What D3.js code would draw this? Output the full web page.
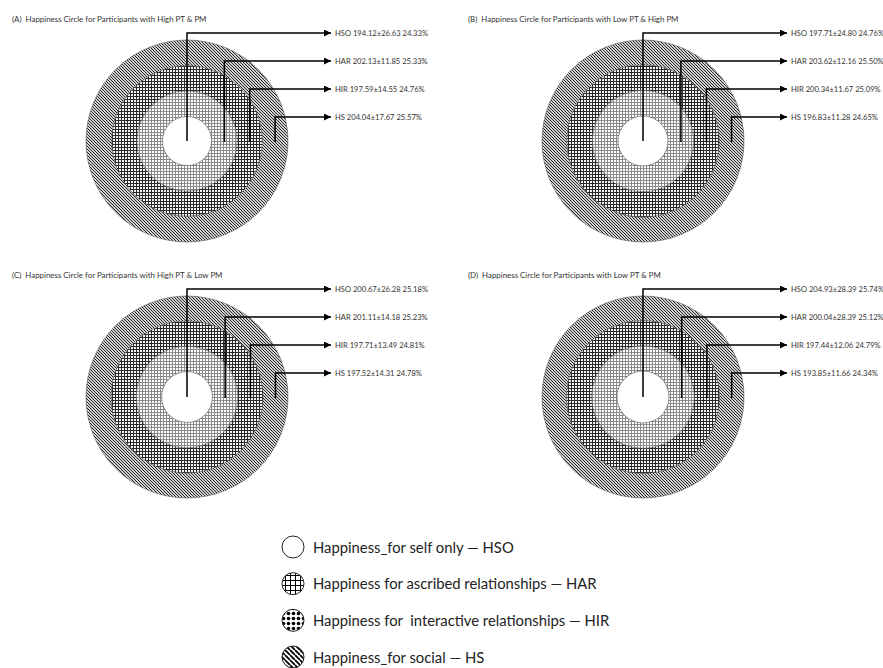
<!DOCTYPE html>
<html>
<head>
<meta charset="utf-8">
<script src="https://cdn.jsdelivr.net/npm/d3@7/dist/d3.min.js"></script>
<style>
  html, body { margin: 0; padding: 0; background: #fff; }
  svg { display: block; font-family: Lato, "Open Sans", sans-serif; }
</style>
</head>
<body>
<svg id="chart" width="883" height="668"></svg>
<script>
// Happiness circle groups and their labels
const panelTitles = [
  "(A)  Happiness Circle for Participants with High PT & PM",
  "(B)  Happiness Circle for Participants with Low PT & High PM",
  "(C)  Happiness Circle for Participants with High PT & Low PM",
  "(D)  Happiness Circle for Participants with Low PT & PM"
];
const categories = ["HSO", "HAR", "HIR", "HS"];

// Mean, SD and share (%) per category, one row per group (A–D)
const means = [
  [194.12, 202.13, 197.59, 204.04],
  [197.71, 203.62, 200.34, 196.83],
  [200.67, 201.11, 197.71, 197.52],
  [204.93, 200.04, 197.44, 193.85]
];
const sds = [
  [26.63, 11.85, 14.55, 17.67],
  [24.80, 12.16, 11.67, 11.28],
  [26.28, 14.18, 13.49, 14.31],
  [28.39, 28.39, 12.06, 11.66]
];
const percents = [
  [24.33, 25.33, 24.76, 25.57],
  [24.76, 25.50, 25.09, 24.65],
  [25.18, 25.23, 24.81, 24.78],
  [25.74, 25.12, 24.79, 24.34]
];

const legendLabels = [
  "Happiness_for self only \u2014 HSO",
  "Happiness for ascribed relationships \u2014 HAR",
  "Happiness for  interactive relationships \u2014 HIR",
  "Happiness_for social \u2014 HS"
];

const svg = d3.select("#chart");
const defs = svg.append("defs");

// ---- fill textures ----
function gridPattern(id, size, color, w, bg) {
  const p = defs.append("pattern").attr("id", id)
    .attr("patternUnits", "userSpaceOnUse").attr("width", size).attr("height", size);
  p.append("rect").attr("width", size).attr("height", size).attr("fill", bg || "#fff");
  p.append("rect").attr("width", size).attr("height", w).attr("fill", color);
  p.append("rect").attr("width", w).attr("height", size).attr("fill", color);
}
function diagPattern(id, size, color, w, bg) {
  const p = defs.append("pattern").attr("id", id)
    .attr("patternUnits", "userSpaceOnUse").attr("width", size).attr("height", size);
  p.append("rect").attr("width", size).attr("height", size).attr("fill", bg || "#fff");
  p.append("path")
    .attr("d", `M0,0L${size},${size}M${-size},0L0,${size}M${size},0L${2 * size},${size}`)
    .attr("stroke", color).attr("stroke-width", w);
}
function dotPattern(id, size, r) {
  const p = defs.append("pattern").attr("id", id)
    .attr("patternUnits", "userSpaceOnUse").attr("width", size).attr("height", size)
    .attr("x", 1).attr("y", 1);
  p.append("rect").attr("width", size).attr("height", size).attr("fill", "#fff");
  p.append("circle").attr("cx", size / 2).attr("cy", size / 2).attr("r", r).attr("fill", "#000");
}

gridPattern("texHAR", 3, "#8a8a8a", 1);
gridPattern("texHIR", 3, "#2a2a2a", 1, "#f4f4f4");
diagPattern("texHS", 3, "#2a2a2a", 1, "#cfcfcf");
gridPattern("legHAR", 5, "#000", 1);
dotPattern("legHIR", 5, 1.8);
diagPattern("legHS", 5, "#000", 1.8);

const fills = { HSO: "#fff", HAR: "url(#texHAR)", HIR: "url(#texHIR)", HS: "url(#texHS)" };
const legendFills = ["#fff", "url(#legHAR)", "url(#legHIR)", "url(#legHS)"];

// arrowhead
defs.append("marker").attr("id", "arrow")
  .attr("viewBox", "0 0 10 10").attr("refX", 10).attr("refY", 5)
  .attr("markerUnits", "userSpaceOnUse")
  .attr("markerWidth", 7).attr("markerHeight", 7).attr("orient", "auto")
  .append("path").attr("d", "M0,0L10,5L0,10Z").attr("fill", "#000");

// ---- layout of the four panels ----
const col = d3.scalePoint().domain([0, 1]).range([187, 643]);
const row = d3.scalePoint().domain([0, 1]).range([141, 397]);
const rScale = d3.scaleLinear().domain([0, 100]).range([0, 101]);
const labelY = d3.scalePoint().domain(categories).range([-108, -24]);
const arrowX = 144;

panelTitles.forEach((title, i) => {
  const cx = col(i % 2), cy = row(Math.floor(i / 2));
  const g = svg.append("g").attr("transform", `translate(${cx},${cy})`);

  // outer radius of each ring from cumulative share
  const cum = d3.cumsum(percents[i]);
  const outer = Array.from(cum, v => rScale(v));
  const inner = [0].concat(outer.slice(0, 3));
  const rings = categories.map((c, k) => ({ c, r0: inner[k], r1: outer[k] }));

  svg.append("text")
    .attr("x", cx - 175).attr("y", cy - 119)
    .attr("font-size", 7.9).attr("fill", "#333")
    .style("white-space", "pre")
    .text(title);

  g.selectAll("circle.ring").data(rings.slice().reverse()).join("circle")
    .attr("class", "ring")
    .attr("r", d => d.r1)
    .attr("fill", d => fills[d.c])
    .attr("stroke", "#555").attr("stroke-width", 0.6);

  // leader lines from each ring to its label
  const leaderX = d => (d.c === "HSO" ? 0 : (d.r0 + d.r1) / 2);
  g.selectAll("path.leader").data(rings).join("path")
    .attr("class", "leader")
    .attr("d", d => `M${leaderX(d)},${d.c === "HSO" ? 0 : 1}V${labelY(d.c)}H${arrowX}`)
    .attr("fill", "none").attr("stroke", "#000").attr("stroke-width", 1.5)
    .attr("marker-end", "url(#arrow)");

  g.selectAll("text.lbl").data(rings).join("text")
    .attr("class", "lbl")
    .attr("x", arrowX + 4).attr("y", d => labelY(d.c) + 2.6)
    .attr("font-size", 7.6).attr("fill", "#333")
    .text((d, k) => `${d.c} ${means[i][k].toFixed(2)}\u00b1${sds[i][k].toFixed(2)} ${percents[i][k].toFixed(2)}%`);
});

// ---- legend ----
const legY = d3.scalePoint().domain(d3.range(4)).range([547, 657]);
const leg = svg.append("g");
leg.selectAll("circle").data(legendLabels).join("circle")
  .attr("cx", 293).attr("cy", (d, k) => legY(k)).attr("r", 11)
  .attr("fill", (d, k) => legendFills[k])
  .attr("stroke", "#222").attr("stroke-width", 1);
leg.selectAll("text").data(legendLabels).join("text")
  .attr("x", 313).attr("y", (d, k) => legY(k) + 5.5)
  .attr("font-size", 14.8).attr("fill", "#222")
  .style("white-space", "pre")
  .text(d => d);
</script>
</body>
</html>
